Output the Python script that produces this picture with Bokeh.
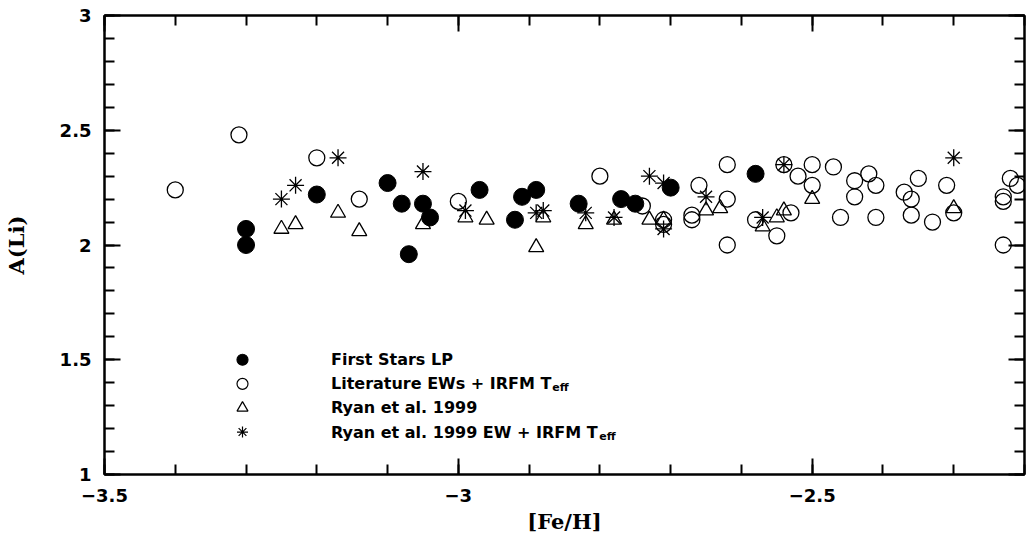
from bokeh.plotting import figure
from bokeh.models import (SingleIntervalTicker, CustomJSTickFormatter, LinearAxis,
                          Range1d, ColumnDataSource)
from bokeh.core.properties import value
from bokeh.embed import file_html
from bokeh.resources import INLINE

# ---- data ----
fs_feh = [-3.30, -3.30, -3.20, -3.10, -3.08, -3.07, -3.05, -3.04, -2.97, -2.92,
          -2.91, -2.89, -2.83, -2.77, -2.75, -2.70, -2.58]
fs_ali = [2.07, 2.00, 2.22, 2.27, 2.18, 1.96, 2.18, 2.12, 2.24, 2.11,
          2.21, 2.24, 2.18, 2.20, 2.18, 2.25, 2.31]

lit_feh = [-3.40, -3.31, -3.20, -3.14, -3.00, -2.80, -2.74, -2.71, -2.71, -2.66,
           -2.67, -2.67, -2.62, -2.62, -2.62, -2.58, -2.55, -2.53, -2.54, -2.52,
           -2.50, -2.50, -2.47, -2.46, -2.44, -2.44, -2.42, -2.41, -2.41, -2.37,
           -2.36, -2.36, -2.35, -2.33, -2.31, -2.30, -2.22, -2.21, -2.23, -2.23,
           -2.23]
lit_ali = [2.24, 2.48, 2.38, 2.20, 2.19, 2.30, 2.17, 2.11, 2.09, 2.26,
           2.13, 2.11, 2.35, 2.20, 2.00, 2.11, 2.04, 2.14, 2.35, 2.30,
           2.35, 2.26, 2.34, 2.12, 2.28, 2.21, 2.31, 2.26, 2.12, 2.23,
           2.20, 2.13, 2.29, 2.10, 2.26, 2.14, 2.29, 2.26, 2.21, 2.19,
           2.00]

ryan_feh = [-3.25, -3.23, -3.17, -3.14, -3.05, -2.99, -2.96, -2.89, -2.88, -2.82,
            -2.78, -2.73, -2.71, -2.65, -2.63, -2.57, -2.55, -2.54, -2.50, -2.30]
ryan_ali = [2.07, 2.09, 2.14, 2.06, 2.09, 2.12, 2.11, 1.99, 2.12, 2.09,
            2.11, 2.11, 2.11, 2.15, 2.16, 2.08, 2.12, 2.15, 2.20, 2.16]

rew_feh = [-3.25, -3.23, -3.17, -3.05, -2.99, -2.89, -2.88, -2.82, -2.78, -2.73,
           -2.71, -2.71, -2.65, -2.57, -2.54, -2.30]
rew_ali = [2.20, 2.26, 2.38, 2.32, 2.15, 2.14, 2.15, 2.14, 2.12, 2.30,
           2.27, 2.07, 2.21, 2.12, 2.35, 2.38]

x_ticks_interval = 0.5
leg_labels = ["First Stars LP", "Literature EWs + IRFM T", "Ryan et al. 1999",
              "Ryan et al. 1999 EW + IRFM T"]
leg_subs = ["", "eff", "", "eff"]
leg_markers = ["circle", "circle", "triangle", "asterisk"]
leg_fill = [1, 0, 0, 0]
leg_y = [1.50, 1.395, 1.29, 1.185]

# approximate DejaVu Sans Bold advance widths (em)
W = {' ': .348, '+': .838, '.': .381, '1': .696, '9': .696, 'E': .683, 'F': .683,
     'I': .372, 'L': .636, 'M': .994, 'P': .730, 'R': .770, 'S': .719, 'T': .683,
     'W': 1.101, 'a': .675, 'e': .678, 'i': .343, 'l': .343, 'n': .712, 'r': .493,
     's': .595, 't': .478, 'u': .712, 'y': .650}
LEG_FS = 16


def twidth(s, fs):
    return sum(W.get(c, .65) for c in s) * fs


p = figure(width=1028, height=546, x_range=Range1d(-3.5, -2.2), y_range=Range1d(1, 3),
           output_backend="svg", toolbar_location=None,
           min_border_left=103, min_border_right=4, min_border_top=15, min_border_bottom=72,
           background_fill_color="white", border_fill_color="white")
p.grid.visible = False
p.outline_line_color = "black"
p.outline_line_width = 2

fmt = CustomJSTickFormatter(code="return tick < 0 ? '\\u2212' + (-tick) : '' + tick;")
blank = CustomJSTickFormatter(code="return '';")


def style(ax):
    ax.ticker = SingleIntervalTicker(interval=x_ticks_interval, num_minor_ticks=5)
    ax.major_tick_in = 16
    ax.major_tick_out = 0
    ax.minor_tick_in = 10
    ax.minor_tick_out = 0
    ax.major_tick_line_width = 2
    ax.minor_tick_line_width = 2
    ax.axis_line_width = 2
    ax.major_tick_line_color = "black"
    ax.minor_tick_line_color = "black"
    ax.axis_line_color = "black"
    ax.major_label_text_font = "DejaVu Sans"
    ax.major_label_text_font_style = "bold"
    ax.major_label_text_font_size = "18px"
    ax.major_label_text_color = "black"
    ax.axis_label_text_font = "DejaVu Serif"
    ax.axis_label_text_font_style = "bold"
    ax.axis_label_text_font_size = "21px"
    ax.axis_label_text_color = "black"


xa = p.xaxis[0]
ya = p.yaxis[0]
style(xa)
style(ya)
xa.formatter = fmt
ya.formatter = fmt
xa.axis_label = "[Fe/H]"
ya.axis_label = "A(Li)"
xa.major_label_standoff = 14
xa.axis_label_standoff = 4
ya.major_label_standoff = 13
ya.axis_label_standoff = 28

top = LinearAxis()
right = LinearAxis()
for ax in (top, right):
    style(ax)
    ax.formatter = blank
    ax.major_label_standoff = 0
    ax.major_label_text_font_size = "1px"
p.add_layout(top, "above")
p.add_layout(right, "right")

p.scatter(fs_feh, fs_ali, marker="circle", size=17, fill_color="black", line_color="black")
p.scatter(lit_feh, lit_ali, marker="circle", size=16, fill_color=None,
          line_color="black", line_width=1.3)
p.scatter(ryan_feh, ryan_ali, marker="triangle", size=15, fill_color=None,
          line_color="black", line_width=1.3)
p.scatter(rew_feh, rew_ali, marker="asterisk", size=17, line_color="black", line_width=1.3)

# legend drawn in data space
leg_src = ColumnDataSource(dict(
    x=[-3.305] * 4, y=leg_y, marker=leg_markers, fa=leg_fill,
    tx=[-3.18] * 4, label=leg_labels, sub=leg_subs,
    sx=[twidth(s, LEG_FS) + 1 for s in leg_labels]))
p.scatter("x", "y", source=leg_src, marker="marker", size=11, fill_color="black",
          fill_alpha="fa", line_color="black", line_width=1.2)
p.text("tx", "y", text="label", source=leg_src, text_font=value("DejaVu Sans"),
       text_font_style="bold", text_font_size=f"{LEG_FS}px", text_baseline="middle",
       text_color="black")
p.text("tx", "y", text="sub", source=leg_src, x_offset="sx", y_offset=4,
       text_font=value("DejaVu Sans"), text_font_style="bold", text_font_size="11px",
       text_baseline="middle", text_color="black")

open("out.html", "w").write(file_html(p, INLINE))
